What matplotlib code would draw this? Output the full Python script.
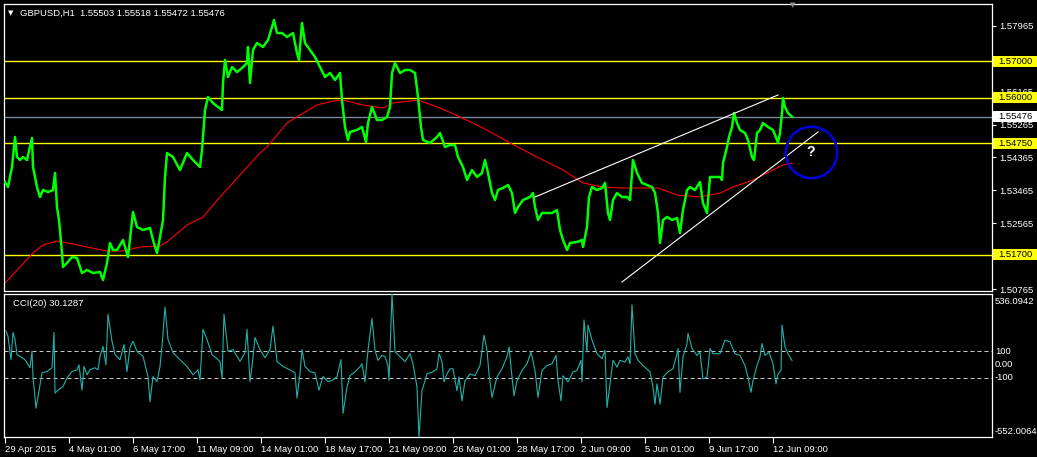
import matplotlib
matplotlib.use('Agg')
import matplotlib.pyplot as plt
from matplotlib.patches import Rectangle
from matplotlib.transforms import blended_transform_factory

# bars are hourly, counted from 29 Apr 2015
price_bar = [0, 3, 7, 10, 12, 15, 18, 22, 27, 28, 32, 35, 38, 43, 48, 50, 52, 54, 57, 58,
             62, 67, 72, 77, 82, 88, 95, 98, 102, 105, 108, 112, 118, 123, 128, 132, 138, 145, 148, 152,
             155, 158, 160, 162, 168, 175, 182, 188, 195, 197, 200, 203, 208, 213, 217, 218, 220, 223, 227, 232,
             237, 242, 243, 245, 248, 252, 258, 263, 267, 269, 272, 277, 282, 288, 292, 294, 297, 300, 305, 310,
             315, 320, 325, 330, 335, 337, 340, 343, 345, 352, 357, 361, 363, 367, 372, 377, 382, 385, 387, 390,
             395, 400, 405, 410, 413, 416, 418, 425, 432, 435, 440, 445, 450, 453, 458, 462, 467, 472, 477, 480,
             483, 487, 490, 493, 498, 503, 507, 510, 513, 518, 525, 528, 530, 533, 537, 542, 547, 552, 555, 558,
             562, 565, 572, 577, 578, 582, 584, 587, 592, 597, 600, 603, 605, 608, 612, 617, 622, 625, 628, 632,
             637, 642, 647, 650, 653, 655, 658, 662, 667, 672, 675, 678, 682, 685, 690, 695, 698, 702, 705, 710,
             715, 717, 718, 722, 724, 727, 729, 732, 735, 740, 743, 747, 749, 752, 755, 758, 763, 768, 772, 773,
             775, 777, 778, 780, 783, 787]
price_close = [1.53694, 1.53557, 1.54104, 1.54924, 1.54377, 1.54295, 1.54377, 1.54295, 1.54896, 1.54104,
               1.53557, 1.53284, 1.53475, 1.53421, 1.53475, 1.53940, 1.53011, 1.52656, 1.51754, 1.51372,
               1.51481, 1.51645, 1.51617, 1.51208, 1.51290, 1.51208, 1.51235, 1.51016, 1.51481, 1.52027,
               1.51836, 1.51836, 1.52109, 1.51645, 1.52874, 1.52464, 1.52383, 1.52437, 1.52109, 1.51754,
               1.52191, 1.52656, 1.53831, 1.54486, 1.54377, 1.54022, 1.54486, 1.54295, 1.54104, 1.54568,
               1.55661, 1.56016, 1.55852, 1.55743, 1.55661, 1.56399, 1.57027, 1.56563, 1.56836, 1.56699,
               1.56809, 1.56945, 1.57383, 1.56399, 1.57301, 1.57492, 1.57383, 1.57574, 1.57929, 1.58120,
               1.57765, 1.57765, 1.57656, 1.57765, 1.57219, 1.57027, 1.58038, 1.57492, 1.57301, 1.57109,
               1.56836, 1.56563, 1.56672, 1.56481, 1.56672, 1.55934, 1.55197, 1.54842, 1.55060, 1.55115,
               1.55197, 1.54787, 1.55306, 1.55743, 1.55388, 1.55388, 1.55470, 1.55743, 1.56672, 1.56945,
               1.56672, 1.56754, 1.56754, 1.56672, 1.56016, 1.55197, 1.54842, 1.54760, 1.54924, 1.55033,
               1.54650, 1.54705, 1.54705, 1.54377, 1.54104, 1.53749, 1.54022, 1.53831, 1.53940, 1.54295,
               1.53940, 1.53393, 1.53202, 1.53475, 1.53530, 1.53612, 1.53393, 1.52847, 1.53011, 1.53202,
               1.53284, 1.53393, 1.53011, 1.52656, 1.52847, 1.52847, 1.52847, 1.52929, 1.52383, 1.52109,
               1.51836, 1.52027, 1.52055, 1.52109, 1.51918, 1.52464, 1.53284, 1.53557, 1.53475, 1.53530,
               1.53667, 1.52847, 1.52656, 1.53202, 1.53393, 1.53284, 1.53284, 1.53202, 1.54295, 1.53940,
               1.53667, 1.53612, 1.53557, 1.53393, 1.52847, 1.52027, 1.52656, 1.52738, 1.52656, 1.52710,
               1.52301, 1.52929, 1.53475, 1.53557, 1.53475, 1.53694, 1.53120, 1.52847, 1.53831, 1.53831,
               1.53831, 1.53749, 1.54213, 1.54650, 1.54924, 1.55197, 1.55579, 1.55306, 1.55115, 1.55033,
               1.54842, 1.54377, 1.54295, 1.55033, 1.55115, 1.55306, 1.55197, 1.55115, 1.54842, 1.54760,
               1.55033, 1.55579, 1.55990, 1.55743, 1.55579, 1.55476]

ma_bar = [0, 15, 28, 38, 52, 68, 82, 102, 118, 135, 155, 162, 182, 198, 215, 235, 255, 262, 282, 295,
          312, 328, 338, 358, 378, 388, 413, 435, 455, 478, 505, 532, 558, 578, 598, 618, 653, 672, 695, 715,
          728, 748, 768, 778, 787]
ma_value = [1.50934, 1.51372, 1.51754, 1.51973, 1.52082, 1.52000, 1.51918, 1.51809, 1.51809, 1.51918,
            1.51945, 1.52055, 1.52519, 1.52738, 1.53284, 1.53885, 1.54486, 1.54650, 1.55306, 1.55525,
            1.55798, 1.55907, 1.55934, 1.55798, 1.55716, 1.55852, 1.55934, 1.55716, 1.55470, 1.55169,
            1.54760, 1.54377, 1.54022, 1.53667, 1.53557, 1.53530, 1.53530, 1.53339, 1.53284, 1.53393,
            1.53557, 1.53749, 1.54022, 1.54158, 1.54213]

cci_bar = [1, 3, 6, 8, 10, 12, 15, 20, 25, 27,
           28, 31, 33, 37, 42, 47, 49, 50, 53, 58,
           62, 67, 72, 74, 77, 79, 82, 85, 90, 93,
           95, 98, 101, 103, 107, 110, 115, 119, 122, 125,
           128, 132, 138, 143, 145, 148, 152, 155, 157, 160,
           163, 168, 175, 182, 188, 193, 195, 198, 202, 207,
           215, 217, 219, 223, 228, 235, 240, 242, 245, 247,
           250, 255, 260, 265, 268, 272, 278, 285, 290, 292,
           295, 297, 300, 305, 310, 314, 318, 323, 328, 332,
           336, 338, 342, 345, 350, 355, 357, 360, 363, 367,
           370, 373, 377, 380, 383, 384, 387, 390, 395, 400,
           405, 408, 412, 414, 417, 422, 428, 432, 434, 437,
           439, 442, 445, 448, 452, 454, 457, 460, 465, 470,
           475, 479, 482, 484, 487, 492, 497, 502, 504, 507,
           509, 512, 517, 522, 526, 530, 533, 537, 542, 547,
           551, 553, 556, 558, 563, 568, 572, 576, 577, 579,
           582, 583, 587, 592, 597, 600, 602, 605, 608, 612,
           615, 620, 623, 625, 627, 630, 633, 638, 645, 648,
           650, 652, 655, 658, 663, 668, 672, 673, 675, 678,
           682, 683, 687, 692, 695, 698, 702, 705, 708, 715,
           720, 725, 730, 735, 740, 743, 746, 748, 752, 755,
           757, 760, 764, 768, 771, 773, 776, 777, 780, 783,
           787]
cci_value = [254, 215, 36, 244, 190, 75, 62, 36, -25, 100,
             -92, -333, -246, -64, -54, -25, 244, -218, -195, -169,
             -103, -54, -41, -3, -195, -15, -79, -41, -25, -41,
             62, 138, -3, 382, 177, 75, 36, 151, -54, 128,
             177, 100, 62, -92, -285, -92, -131, -15, 138, 436,
             190, 90, 36, -15, -79, -41, -118, 267, 190, 75,
             23, -103, 382, 100, 113, 23, 90, 267, -131, -15,
             205, 113, 51, 113, 292, 23, -15, -41, -64, -256,
             -64, 113, -15, -54, -64, -195, -92, -131, -118, -92,
             36, -372, -172, -85, -56, -18, 5, -133, 108, 351,
             108, 31, 69, 59, -8, -123, 536, 98, 59, 21,
             82, 5, -172, -552, -200, -72, -56, -33, 82, 21,
             -133, -72, -33, -33, -200, -95, -277, -123, -72, -85,
             -8, 223, 108, -72, -251, -95, -33, 59, 134, -95,
             -238, -123, -46, 5, 95, -46, -251, -46, -8, 5,
             69, -123, -277, -85, -133, -56, -46, 31, -133, 338,
             95, 300, 185, 82, 44, 108, -328, -148, 31, -20,
             31, 18, 57, 5, 454, 82, 31, -8, -56, -174,
             -302, -148, -302, -97, -56, -33, 82, 121, -212, 57,
             159, 236, 121, 69, 95, -110, -97, 121, 82, 82,
             185, 172, 82, 69, -8, -97, -212, -123, -8, 57,
             159, 69, 95, 5, -148, -72, -46, 300, 134, 82,
             30.1287]

level_lines = [1.57000, 1.56000, 1.54750, 1.51700]
bid = 1.55476
price_ticks = [1.57965, 1.57065, 1.56165, 1.55265, 1.54365, 1.53465, 1.52565, 1.51665, 1.50765]
hidden_ticks = [1.57065, 1.51665]   # covered by the level boxes
cci_levels = [100, -100]
cci_max, cci_min = 536.0942, -552.0064

# hand drawn trend channel and marker
upper_line_bar = [530, 773]
upper_line_price = [1.53284, 1.56071]
lower_line_bar = [617, 813]
lower_line_price = [1.50962, 1.55060]
mark_bar, mark_price = 806, 1.54514

date_ticks = [0, 64, 128, 192, 256, 320, 384, 448, 512, 576, 640, 704, 768]
date_labels = ['29 Apr 2015', '4 May 01:00', '6 May 17:00', '11 May 09:00', '14 May 01:00',
               '18 May 17:00', '21 May 09:00', '26 May 01:00', '28 May 17:00', '2 Jun 09:00',
               '5 Jun 01:00', '9 Jun 17:00', '12 Jun 09:00']

W, H = 1037, 457
FONT = 'Liberation Sans'
FS = 6.8


def px_box(left, top, right, bottom):
    return [left / W, 1 - bottom / H, (right - left) / W, (bottom - top) / H]


fig = plt.figure(figsize=(W / 100, H / 100), dpi=100, facecolor='black')
ax = fig.add_axes(px_box(4, 4, 992, 291), facecolor='black')
ax2 = fig.add_axes(px_box(4, 294, 992, 437), facecolor='black')

for a in (ax, ax2):
    a.set_xlim(-1, 987)
    for s in a.spines.values():
        s.set_color('white')
        s.set_linewidth(0.9)

# --- price window ---
ax.set_ylim(1.507158, 1.585574)
for lv in level_lines:
    ax.axhline(lv, color='#FFFF00', lw=1.0, zorder=1)
ax.axhline(bid, color='#778899', lw=1.0, zorder=1)
ax.plot(ma_bar, ma_value, color='#FF0000', lw=0.8, zorder=2)
ax.plot(price_bar, price_close, color='#00FF00', lw=1.8, zorder=3)
ax.plot(upper_line_bar, upper_line_price, color='white', lw=0.8, zorder=4)
ax.plot(lower_line_bar, lower_line_price, color='white', lw=0.8, zorder=4)
ax.plot([mark_bar], [mark_price], marker='o', ms=37, mfc='none', mec='#0000E0', mew=1.8, zorder=5)
ax.text(mark_bar, mark_price, '?', color='white', fontsize=10, fontweight='bold',
        ha='center', va='center', family=FONT, zorder=6)

ax.set_xticks([])
ax.yaxis.tick_right()
ax.set_yticks(price_ticks)
ax.set_yticklabels(['' if t in hidden_ticks else '%.5f' % t for t in price_ticks])
ax.tick_params(axis='y', colors='white', length=3, width=0.8, pad=2, labelsize=FS)
for lab in ax.get_yticklabels():
    lab.set_family(FONT)

# highlighted price labels on the scale
tr = blended_transform_factory(ax.transAxes, ax.transData)
box_h = 11 / 3660
for lv, fc in [(l, '#FFFF00') for l in level_lines] + [(bid, 'white')]:
    ax.add_patch(Rectangle((989 / 988, lv - box_h / 2), 0.05, box_h, transform=tr,
                           facecolor=fc, edgecolor='none', clip_on=False, zorder=8))
    ax.text(994 / 988, lv, '%.5f' % lv, transform=tr, color='black', fontsize=FS,
            family=FONT, ha='left', va='center', clip_on=False, zorder=9)

fig.text(11 / W, 1 - 13 / H, '\u25bc', color='white', fontsize=5, ha='center', va='center')
fig.text(20 / W, 1 - 13 / H, 'GBPUSD,H1  1.55503 1.55518 1.55472 1.55476', color='white',
         fontsize=FS, family=FONT, ha='left', va='center')
fig.text(793 / W, 1 - 5 / H, '\u25bc', color='#909090', fontsize=5, ha='center', va='center')

# --- CCI window ---
ax2.set_ylim(cci_min, cci_max)
for lv in cci_levels:
    ax2.axhline(lv, color='#C8C8C8', lw=0.72, ls=(0, (4, 3)), zorder=1)
ax2.plot(cci_bar, cci_value, color='#20B2AA', lw=0.8, zorder=3)
ax2.text(9 / 988, 1 - 10 / 143, 'CCI(20) 30.1287', transform=ax2.transAxes, color='white',
         fontsize=FS, family=FONT, ha='left', va='center')

ax2.set_yticks([])
tr2 = blended_transform_factory(ax2.transAxes, ax2.transData)
for val, txt in [(100, '100'), (0, '0.00'), (-100, '-100')]:
    ax2.text(991 / 988, val, txt, transform=tr2, color='white', fontsize=FS, family=FONT,
             ha='left', va='center', clip_on=False)
ax2.text(991 / 988, 1 - 3 / 143, '%.4f' % cci_max, transform=ax2.transAxes, color='white',
         fontsize=FS, family=FONT, ha='left', va='top', clip_on=False)
ax2.text(991 / 988, 1 / 143, '%.4f' % cci_min, transform=ax2.transAxes, color='white',
         fontsize=FS, family=FONT, ha='left', va='bottom', clip_on=False)

ax2.set_xticks(date_ticks)
ax2.set_xticklabels(date_labels)
ax2.tick_params(axis='x', colors='white', length=4, width=0.8, pad=1.5, labelsize=FS)
for lab in ax2.get_xticklabels():
    lab.set_ha('left')
    lab.set_family(FONT)

fig.savefig('out.png', dpi=100, facecolor='black')
